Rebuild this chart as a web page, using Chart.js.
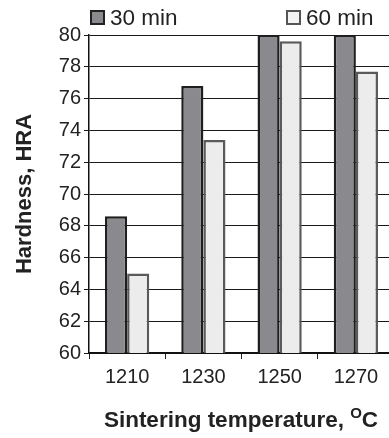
<!DOCTYPE html>
<html>
<head>
<meta charset="utf-8">
<script src="https://cdn.jsdelivr.net/npm/chart.js@4.4.1/dist/chart.umd.min.js"></script>
<style>
  html, body { margin: 0; padding: 0; background: #fff; }
  #wrap { position: relative; width: 389px; height: 438px; overflow: hidden; }
  #wrap canvas { position: absolute; left: 0; top: 0; }
  .leg { position: absolute; top: 4px; font: 22.5px "Liberation Sans", Arial, sans-serif; color: #222; line-height: 28px; }
  .leg i { display: inline-block; width: 11px; height: 11px; border: 2px solid #222; vertical-align: 0px; margin-right: 5px; }
  #xtitle { position: absolute; left: 89px; width: 304px; top: 405px; text-align: center; white-space: nowrap;
            font: bold 22.5px "Liberation Sans", Arial, sans-serif; color: #222; line-height: 30px; }
  #xtitle sup { font-size: 15px; vertical-align: 9px; line-height: 0; }
</style>
</head>
<body>
<div id="wrap">
  <!-- the original plot runs a few pixels past the right edge of the picture -->
  <canvas id="chart" width="394" height="438"></canvas>
  <div class="leg" style="left:90px"><i style="background:#8b8b8f"></i>30 min</div>
  <div class="leg" style="left:286px"><i style="background:#f4f4f4;border-color:#555"></i>60 min</div>
  <div id="xtitle">Sintering temperature, <sup>O</sup>C</div>
</div>
<script>
// values
const temperatures = ['1210', '1230', '1250', '1270'];
const hardness30 = [68.6, 76.8, 80.0, 80.0];
const hardness60 = [65.0, 73.4, 79.6, 77.7];

const FONT = '"Liberation Sans", Arial, sans-serif';

new Chart(document.getElementById('chart'), {
  type: 'bar',
  data: {
    labels: temperatures,
    datasets: [
      {
        label: '30 min',
        data: hardness30,
        backgroundColor: '#8a8a8e',
        borderColor: '#1e1e1e',
        borderWidth: 2.5
      },
      {
        label: '60 min',
        data: hardness60,
        backgroundColor: '#ececec',
        borderColor: '#5a5a5a',
        borderWidth: 2.5
      }
    ]
  },
  options: {
    responsive: false,
    animation: false,
    layout: { padding: { top: 35, left: 0, right: 0, bottom: 0 } },
    datasets: { bar: { categoryPercentage: 0.58, barPercentage: 1.0 } },
    plugins: {
      legend: { display: false },
      tooltip: { enabled: false }
    },
    scales: {
      x: {
        afterFit: s => { s.height = 85; },
        grid: { drawOnChartArea: false, drawTicks: true, tickLength: 6, color: '#222', lineWidth: 1 },
        border: { color: '#111', width: 2 },
        ticks: { color: '#222', font: { family: FONT, size: 20 }, padding: 6 }
      },
      y: {
        min: 60,
        max: 80,
        afterFit: s => { s.width = 89; },
        grid: { color: '#1a1a1a', lineWidth: 1, tickLength: 5 },
        border: { color: '#111', width: 1.5 },
        ticks: { stepSize: 2, color: '#222', font: { family: FONT, size: 20 }, padding: 3 },
        title: {
          display: true,
          text: 'Hardness, HRA',
          color: '#222',
          font: { family: FONT, size: 22, weight: 'bold' },
          padding: { top: 12, bottom: 0 }
        }
      }
    }
  }
});
</script>
</body>
</html>
